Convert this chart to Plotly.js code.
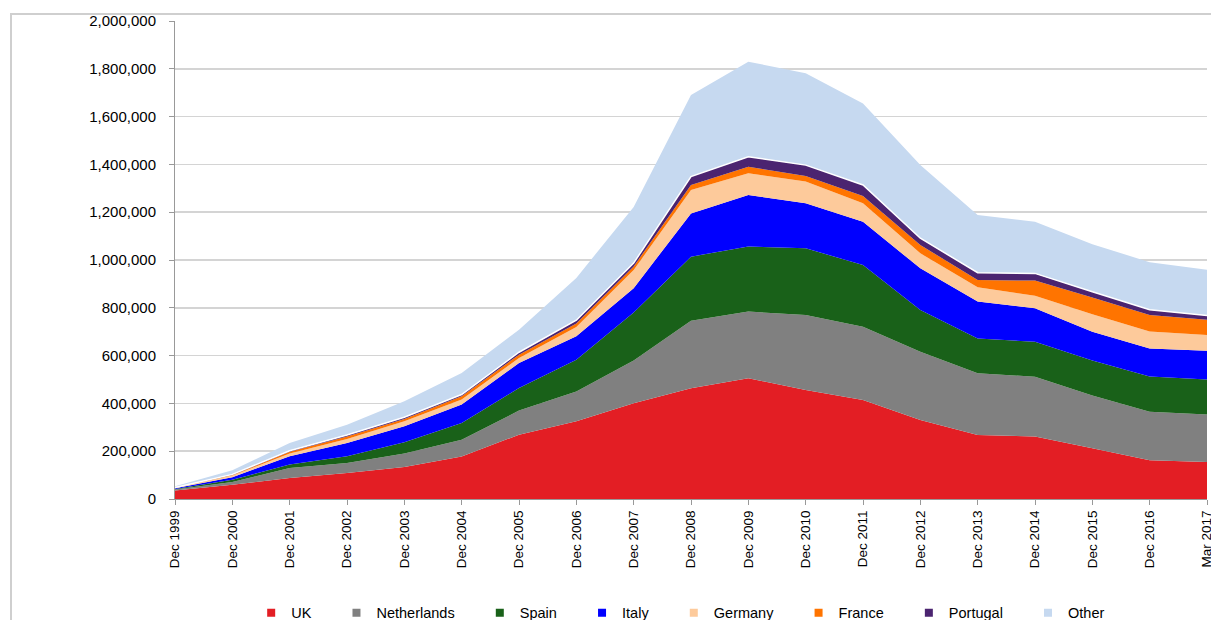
<!DOCTYPE html>
<html>
<head>
<meta charset="utf-8">
<script src="https://cdn.plot.ly/plotly-3.0.1.min.js"></script>
<style>
  html, body { margin: 0; padding: 0; background: #fff; overflow: hidden; }
  #chart { width: 1211px; height: 620px; }
  #frame { position: absolute; left: 10px; top: 13px; width: 1300px; height: 700px; border: 2px solid #cfcfcf; pointer-events: none; }
</style>
</head>
<body>
<div id="chart"></div>
<div id="frame"></div>
<script>
const categories = ["Dec 1999","Dec 2000","Dec 2001","Dec 2002","Dec 2003","Dec 2004","Dec 2005","Dec 2006","Dec 2007","Dec 2008","Dec 2009","Dec 2010","Dec 2011","Dec 2012","Dec 2013","Dec 2014","Dec 2015","Dec 2016","Mar 2017"];

const uk          = [36000,60000,88000,109000,134000,178000,269000,325000,401000,463000,505000,456000,414000,331000,268000,261000,212000,162000,155000];
const netherlands = [4000,11000,42000,42000,56000,70000,101000,125000,179000,283000,279000,314000,307000,285000,258000,251000,221000,203000,199000];
const spain       = [2000,10000,14000,28000,47000,70000,94000,133000,200000,268000,272000,279000,258000,175000,146000,146000,147000,148000,146000];
const italy       = [3000,10000,35000,55000,67000,77000,105000,98000,102000,181000,216000,188000,181000,174000,154000,140000,120000,117000,120000];
const germany     = [2000,7000,11000,17000,21000,21000,21000,39000,76000,98000,91000,91000,77000,63000,60000,52000,73000,71000,66000];
const france      = [1000,2000,8000,10000,10000,14000,14000,14000,15000,21000,27000,23000,31000,35000,30000,64000,70000,69000,64000];
const portugal    = [500,3000,4000,7000,7000,7000,10000,14000,14000,35000,42000,46000,46000,28000,31000,30000,24000,22000,18000];
const other       = [4500,17000,32000,43000,67000,90000,94000,177000,235000,341000,398000,384000,341000,306000,241000,216000,199000,199000,191000];

const seriesNames = ["UK","Netherlands","Spain","Italy","Germany","France","Portugal","Other"];
const seriesData  = [uk, netherlands, spain, italy, germany, france, portugal, other];
const seriesColors = ["#e31e24","#808080","#196119","#0000ff","#fdca9b","#ff7400","#4b2470","#c6d9f0"];

const areaTraces = seriesNames.map((name, i) => ({
  type: "scatter",
  mode: "lines",
  name: name,
  x: categories,
  y: seriesData[i],
  stackgroup: "one",
  fillcolor: seriesColors[i],
  line: name === "Portugal" ? {color: "#ffffff", width: 1.5} : {color: seriesColors[i], width: 0},
  showlegend: false
}));

// legend-only entries with small square keys, as in the reference
const pad = "\u00a0\u00a0\u00a0\u00a0\u00a0";
const legendTraces = seriesNames.map((name, i) => ({
  type: "scatter",
  mode: "markers",
  name: name + (i < seriesNames.length - 1 ? pad : ""),
  x: [null],
  y: [null],
  marker: {symbol: "square", size: 8, color: seriesColors[i]},
  showlegend: true
}));

const layout = {
  width: 1211,
  height: 620,
  margin: {l: 175, r: 4, t: 21, b: 121, autoexpand: false},
  paper_bgcolor: "#ffffff",
  plot_bgcolor: "#ffffff",
  font: {family: "Liberation Sans, Arial, sans-serif", size: 14, color: "#000000"},
  showlegend: true,
  legend: {
    orientation: "h",
    x: 0.49, xanchor: "center",
    y: -0.238, yanchor: "middle",
    traceorder: "normal",
    font: {size: 14.5, color: "#000"},
    itemwidth: 30
  },
  xaxis: {
    type: "category",
    range: [0, categories.length - 1],
    tickangle: -90,
    ticks: "outside",
    ticklen: 5,
    tickcolor: "#999999",
    showline: true,
    linecolor: "#999999",
    linewidth: 1,
    showgrid: false,
    zeroline: false,
    automargin: false,
    tickfont: {size: 13.5, color: "#000"}
  },
  yaxis: {
    range: [0, 2000000],
    dtick: 200000,
    tickformat: ",d",
    ticks: "outside",
    ticklen: 5,
    ticklabelstandoff: 10,
    tickcolor: "#999999",
    showline: true,
    linecolor: "#999999",
    linewidth: 1,
    showgrid: true,
    gridcolor: "#d4d4d4",
    gridwidth: 1.6,
    zeroline: false,
    automargin: false,
    tickfont: {size: 15, color: "#000"}
  }
};

Plotly.newPlot("chart", areaTraces.concat(legendTraces), layout, {displayModeBar: false, staticPlot: true});
</script>
</body>
</html>
